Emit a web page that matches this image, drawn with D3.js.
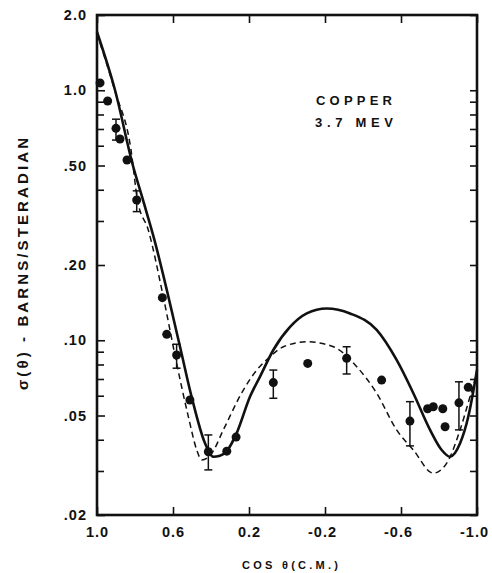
<!DOCTYPE html>
<head>
<meta charset="utf-8">
<title>Copper 3.7 MeV</title>
<style>
body {
  margin: 0;
  background: #fff;
}
text {
  font-family: "Liberation Sans", Arial, sans-serif;
  font-weight: bold;
  fill: #111;
}
.tick line {
  stroke: #111;
  stroke-width: 1.6px;
}
.frame {
  fill: none;
  stroke: #111;
  stroke-width: 2.6px;
}
.solid {
  fill: none;
  stroke: #111;
  stroke-width: 2.6px;
}
.dashed {
  fill: none;
  stroke: #111;
  stroke-width: 1.5px;
  stroke-dasharray: 6,4;
}
.err {
  stroke: #111;
  stroke-width: 1.5px;
}
</style>
<script src="https://cdn.jsdelivr.net/npm/d3@7"></script>
</head>
<body>
<script>
// measured points (cos theta, cross section in barns/sr)
var pointCos   = [0.984, 0.944, 0.90, 0.879, 0.842, 0.791, 0.656, 0.633, 0.581, 0.511,
                  0.414, 0.317, 0.268, 0.072, -0.109, -0.314, -0.498, -0.647, -0.74,
                  -0.77, -0.82, -0.832, -0.905, -0.954];
var pointSigma = [1.07, 0.906, 0.704, 0.638, 0.526, 0.364, 0.148, 0.1056, 0.0873, 0.0577,
                  0.0358, 0.036, 0.041, 0.0677, 0.0808, 0.0847, 0.0693, 0.0475, 0.0532,
                  0.0542, 0.0532, 0.0451, 0.0562, 0.0648];
var errLow     = [null, null, 0.632, null, null, 0.327, null, null, 0.0773, null,
                  0.0303, null, null, 0.0586, null, 0.0733, null, 0.0378, null,
                  null, null, null, 0.0438, null];
var errHigh    = [null, null, 0.766, null, null, 0.396, null, null, 0.0964, null,
                  0.0418, null, null, 0.076, null, 0.0942, null, 0.0568, null,
                  null, null, null, 0.0682, null];

// solid curve
var solidCos   = [1.0, 0.905, 0.811, 0.758, 0.705, 0.563, 0.502, 0.432, 0.388, 0.353,
                  0.316, 0.265, 0.195, 0.142, 0.072, -0.016, -0.104, -0.209, -0.332,
                  -0.472, -0.577, -0.665, -0.753, -0.814, -0.858, -0.911, -0.954, -1.0];
var solidSigma = [1.71, 1.0, 0.5, 0.364, 0.264, 0.0942, 0.0594, 0.0388, 0.0342, 0.0345,
                  0.0361, 0.0425, 0.0594, 0.0715, 0.0914, 0.113, 0.128, 0.134, 0.128,
                  0.11, 0.0834, 0.0614, 0.0438, 0.0364, 0.0342, 0.0387, 0.0494, 0.076];

// dashed curve
var dashCos    = [1.0, 0.905, 0.821, 0.787, 0.73, 0.651, 0.581, 0.519, 0.475, 0.449,
                  0.396, 0.335, 0.23, 0.159, 0.089, 0.019, -0.104, -0.244, -0.367,
                  -0.472, -0.577, -0.665, -0.77, -0.84, -0.911, -0.963, -1.0];
var dashSigma  = [1.68, 0.99, 0.577, 0.364, 0.276, 0.149, 0.081, 0.0494, 0.0364, 0.0332,
                  0.0353, 0.0438, 0.0632, 0.076, 0.086, 0.0942, 0.0986, 0.0942, 0.0784,
                  0.0614, 0.0438, 0.0364, 0.0294, 0.0322, 0.0438, 0.0594, 0.074];

var xTicks  = [1.0, 0.6, 0.2, -0.2, -0.6, -1.0];
var xLabels = ["1.0", "0.6", "0.2", "-0.2", "-0.6", "-1.0"];
var yTicks  = [2.0, 1.0, 0.5, 0.2, 0.1, 0.05, 0.02];
var yLabels = ["2.0", "1.0", ".50", ".20", ".10", ".05", ".02"];
var yMinor  = [0.9, 0.8, 0.7, 0.6, 0.4, 0.3, 0.09, 0.08, 0.07, 0.06, 0.04, 0.03];

var margin = {top: 15, right: 15, bottom: 58, left: 97},
    width = 492 - margin.left - margin.right,
    height = 573 - margin.top - margin.bottom;

var x = d3.scaleLinear().domain([1, -1]).range([0, width]);
var y = d3.scaleLog().domain([0.02, 2]).range([height, 0]);

var svg = d3.select("body").append("svg")
    .attr("width", 492)
    .attr("height", 573)
  .append("g")
    .attr("transform", "translate(" + margin.left + "," + margin.top + ")");

// axes with inward ticks on all four sides
var yFmt = function(d) { return yLabels[yTicks.indexOf(d)]; };
var xFmt = function(d) { return xLabels[xTicks.indexOf(d)]; };

svg.append("g")
    .call(d3.axisLeft(y).tickValues(yTicks).tickSize(-8).tickPadding(10).tickFormat(yFmt))
    .call(function(g) { g.select(".domain").remove(); })
    .selectAll("text").style("font-size", "14.5px").style("letter-spacing", "1px");

svg.append("g")
    .call(d3.axisLeft(y).tickValues(yMinor).tickSize(-7).tickFormat(""))
    .call(function(g) { g.select(".domain").remove(); });

svg.append("g")
    .attr("transform", "translate(" + width + ",0)")
    .call(d3.axisRight(y).tickValues(yTicks.concat(yMinor)).tickSize(-7).tickFormat(""))
    .call(function(g) { g.select(".domain").remove(); });

svg.append("g")
    .attr("transform", "translate(0," + height + ")")
    .call(d3.axisBottom(x).tickValues(xTicks).tickSize(-8).tickPadding(12).tickFormat(xFmt))
    .call(function(g) { g.select(".domain").remove(); })
    .selectAll("text")
      .style("font-size", "14.5px")
      .style("letter-spacing", "1px")
      .attr("dx", function(d) { return d < 0 ? "-3px" : 0; });

svg.append("g")
    .call(d3.axisTop(x).tickValues(xTicks).tickSize(-8).tickFormat(""))
    .call(function(g) { g.select(".domain").remove(); });

svg.append("rect")
    .attr("class", "frame")
    .attr("width", width)
    .attr("height", height);

// curves
var solidData = solidCos.map(function(c, i) { return {c: c, v: solidSigma[i]}; });
var dashData = dashCos.map(function(c, i) { return {c: c, v: dashSigma[i]}; });

var line = d3.line()
    .curve(d3.curveMonotoneX)
    .x(function(d) { return x(d.c); })
    .y(function(d) { return y(d.v); });

svg.append("path")
    .datum(solidData)
    .attr("class", "solid")
    .attr("d", line);

svg.append("path")
    .datum(dashData)
    .attr("class", "dashed")
    .attr("d", line);

// error bars
var pts = pointCos.map(function(c, i) {
  return {c: c, v: pointSigma[i], lo: errLow[i], hi: errHigh[i]};
});
var withErr = pts.filter(function(d) { return d.lo !== null; });

var eb = svg.append("g").selectAll("g")
    .data(withErr)
  .enter().append("g")
    .attr("class", "err");
eb.append("line")
    .attr("x1", function(d) { return x(d.c); })
    .attr("x2", function(d) { return x(d.c); })
    .attr("y1", function(d) { return y(d.lo); })
    .attr("y2", function(d) { return y(d.hi); });
eb.append("line")
    .attr("x1", function(d) { return x(d.c) - 4; })
    .attr("x2", function(d) { return x(d.c) + 4; })
    .attr("y1", function(d) { return y(d.lo); })
    .attr("y2", function(d) { return y(d.lo); });
eb.append("line")
    .attr("x1", function(d) { return x(d.c) - 4; })
    .attr("x2", function(d) { return x(d.c) + 4; })
    .attr("y1", function(d) { return y(d.hi); })
    .attr("y2", function(d) { return y(d.hi); });

svg.append("g").selectAll("circle")
    .data(pts)
  .enter().append("circle")
    .attr("cx", function(d) { return x(d.c); })
    .attr("cy", function(d) { return y(d.v); })
    .attr("r", 4.5)
    .attr("fill", "#111");

// annotation
svg.append("text")
    .attr("x", 257)
    .attr("y", 90)
    .attr("text-anchor", "middle")
    .attr("textLength", 76)
    .attr("lengthAdjust", "spacing")
    .style("font-size", "13px")
    .text("COPPER");
svg.append("text")
    .attr("x", 257)
    .attr("y", 112)
    .attr("text-anchor", "middle")
    .attr("textLength", 78)
    .attr("lengthAdjust", "spacing")
    .style("font-size", "13px")
    .text("3.7 MEV");

// axis titles
svg.append("text")
    .attr("transform", "translate(" + (-69) + "," + (height / 2 - 1) + ") rotate(-90)")
    .attr("text-anchor", "middle")
    .attr("textLength", 252)
    .attr("lengthAdjust", "spacing")
    .style("font-size", "15px")
    .text("\u03C3(\u03B8) - BARNS/STERADIAN");

svg.append("text")
    .attr("x", 193)
    .attr("y", height + 54)
    .attr("text-anchor", "middle")
    .attr("textLength", 96)
    .attr("lengthAdjust", "spacing")
    .style("font-size", "11px")
    .text("COS \u03B8(C.M.)");
</script>
</body>
